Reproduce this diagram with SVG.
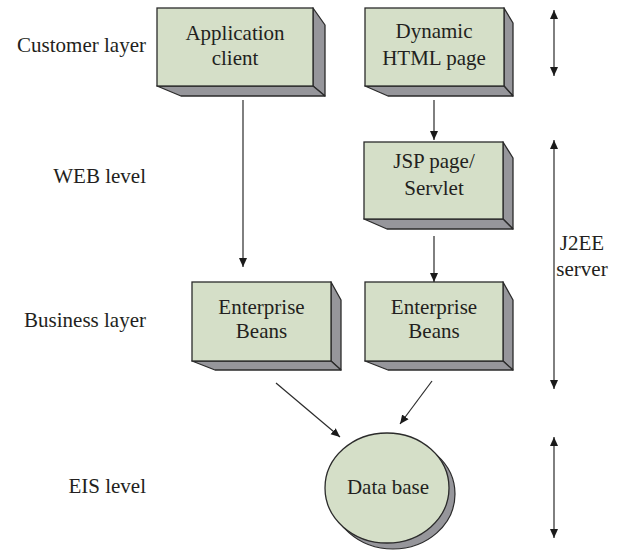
<svg xmlns="http://www.w3.org/2000/svg" width="628" height="550" viewBox="0 0 628 550">
<style>
.front{fill:#d5dfc8;stroke:#2b2b2b;stroke-width:1.3}
.shade{fill:#96969b;stroke:#2b2b2b;stroke-width:1.3;stroke-linejoin:round}
.t{font-family:"Liberation Serif","DejaVu Serif",serif;font-size:21px;fill:#231f20}
.c{text-anchor:middle}
.r{text-anchor:end}
.ln{stroke:#2b2b2b;stroke-width:1.2;fill:none}
</style>
<defs>
<marker id="ah" markerUnits="userSpaceOnUse" markerWidth="10" markerHeight="10" viewBox="0 0 10 10" refX="9" refY="5" orient="auto-start-reverse">
<path d="M0,1 L9,5 L0,9 Z" fill="#1a1a1a"/>
</marker>
</defs>
<rect width="628" height="550" fill="#fff"/>

<g id="labels">
<text class="t r" x="146" y="52">Customer layer</text>
<text class="t r" x="146" y="183">WEB level</text>
<text class="t r" x="146" y="327">Business layer</text>
<text class="t r" x="146" y="493">EIS level</text>
<text class="t c" x="582" y="250">J2EE</text>
<text class="t c" x="582" y="276">server</text>
</g>

<g id="app-client">
<polygon class="shade" points="313,8 325,25 325,96 313,86"/>
<polygon class="shade" points="157,86 181,96 325,96 313,86"/>
<rect class="front" x="157" y="8" width="156" height="78"/>
<text class="t c" x="235" y="40">Application</text>
<text class="t c" x="235" y="65">client</text>
</g>

<g id="dynamic-html">
<polygon class="shade" points="504,8 513,23 513,96 504,86"/>
<polygon class="shade" points="365,86 388,96 513,96 504,86"/>
<rect class="front" x="365" y="8" width="139" height="78"/>
<text class="t c" x="434" y="38">Dynamic</text>
<text class="t c" x="434" y="65">HTML page</text>
</g>

<g id="jsp">
<polygon class="shade" points="503,142 513,158 513,229 503,219"/>
<polygon class="shade" points="364,219 387,229 513,229 503,219"/>
<rect class="front" x="364" y="142" width="139" height="77"/>
<text class="t c" x="434" y="168">JSP page/</text>
<text class="t c" x="434" y="195">Servlet</text>
</g>

<g id="beans-left">
<polygon class="shade" points="331,282 341,300 341,370 331,361"/>
<polygon class="shade" points="192,361 215,370 341,370 331,361"/>
<rect class="front" x="192" y="282" width="139" height="79"/>
<text class="t c" x="261.5" y="314">Enterprise</text>
<text class="t c" x="261.5" y="338">Beans</text>
</g>

<g id="beans-right">
<polygon class="shade" points="503,282 513,300 513,370 503,361"/>
<polygon class="shade" points="365,361 388,370 513,370 503,361"/>
<rect class="front" x="365" y="282" width="138" height="79"/>
<text class="t c" x="434" y="314">Enterprise</text>
<text class="t c" x="434" y="338">Beans</text>
</g>

<g id="database">
<ellipse cx="393" cy="494" rx="62" ry="55" fill="#96969b" stroke="#2b2b2b" stroke-width="1.2"/>
<ellipse cx="387" cy="488" rx="62" ry="55" fill="#d5dfc8" stroke="#2b2b2b" stroke-width="1.3"/>
<text class="t c" x="388" y="494">Data base</text>
</g>

<g id="connectors">
<line class="ln" x1="243" y1="100" x2="243" y2="267" marker-end="url(#ah)"/>
<line class="ln" x1="434" y1="100" x2="434" y2="140" marker-end="url(#ah)"/>
<line class="ln" x1="434" y1="236" x2="434" y2="282" marker-end="url(#ah)"/>
<line class="ln" x1="276" y1="383" x2="340" y2="437" marker-end="url(#ah)"/>
<line class="ln" x1="432" y1="381" x2="400" y2="424" marker-end="url(#ah)"/>
<line class="ln" x1="554" y1="10" x2="554" y2="76" marker-start="url(#ah)" marker-end="url(#ah)"/>
<line class="ln" x1="554" y1="140" x2="554" y2="389" marker-start="url(#ah)" marker-end="url(#ah)"/>
<line class="ln" x1="554" y1="437" x2="554" y2="538" marker-start="url(#ah)" marker-end="url(#ah)"/>
</g>
</svg>
